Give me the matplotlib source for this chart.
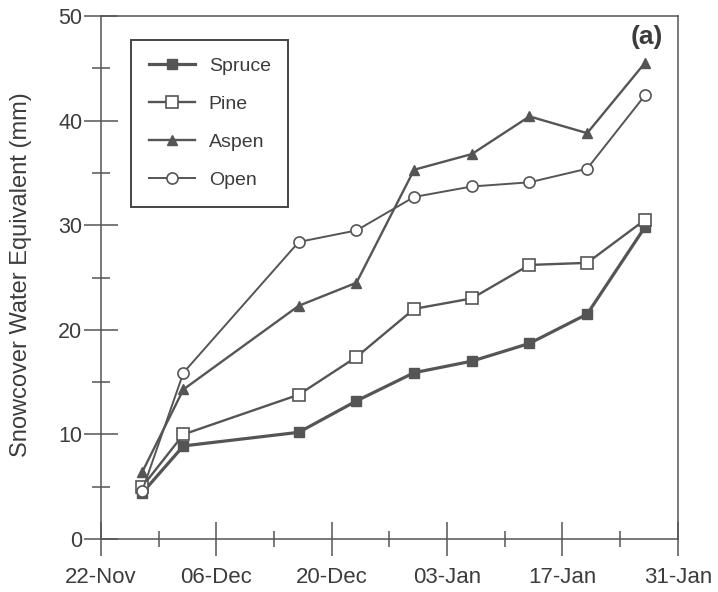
import datetime as dt
import matplotlib
matplotlib.use("Agg")
import matplotlib.pyplot as plt
import matplotlib.dates as mdates

plt.rcParams['font.family'] = ['Liberation Sans', 'DejaVu Sans']

# sampling dates (winter season)
dates = ["1994-11-27", "1994-12-02", "1994-12-16", "1994-12-23", "1994-12-30",
         "1995-01-06", "1995-01-13", "1995-01-20", "1995-01-27"]

# snowcover water equivalent (mm) under each stand type
spruce = [4.4, 8.9, 10.2, 13.2, 15.9, 17.0, 18.7, 21.5, 29.8]
pine = [5.0, 10.0, 13.8, 17.4, 22.0, 23.0, 26.2, 26.4, 30.5]
aspen = [6.4, 14.3, 22.3, 24.5, 35.3, 36.8, 40.4, 38.8, 45.5]
open_site = [4.6, 15.9, 28.4, 29.5, 32.7, 33.7, 34.1, 35.4, 42.4]

x = [dt.datetime.strptime(d, "%Y-%m-%d") for d in dates]

ink = '#555555'
txt = '#3c3c3c'

fig = plt.figure(figsize=(7.18, 5.92), dpi=100)
ax = fig.add_axes([0.1407, 0.0895, 0.8033, 0.8835])

ax.plot(x, spruce, color=ink, lw=2.3, marker='s', ms=7, mfc=ink, mec=ink, label='Spruce')
ax.plot(x, pine, color=ink, lw=1.7, marker='s', ms=8, mfc='white', mec=ink, mew=1.2, label='Pine')
ax.plot(x, aspen, color=ink, lw=1.7, marker='^', ms=7, mfc=ink, mec=ink, label='Aspen')
ax.plot(x, open_site, color=ink, lw=1.4, marker='o', ms=8, mfc='white', mec=ink, mew=1.2, label='Open')

start = dt.datetime(1994, 11, 22)
end = dt.datetime(1995, 1, 31)
ax.set_xlim(start, end)
ax.set_ylim(0, 50)

ax.set_xticks([start + dt.timedelta(days=14 * k) for k in range(6)])
ax.set_xticks([start + dt.timedelta(days=7 + 14 * k) for k in range(5)], minor=True)
ax.xaxis.set_major_formatter(mdates.DateFormatter('%d-%b'))
ax.set_yticks(range(0, 51, 10))
ax.set_yticks(range(5, 50, 10), minor=True)

ax.tick_params(axis='x', which='major', direction='inout', length=24, width=1.1,
               color=ink, labelsize=16, labelcolor=txt, pad=8)
ax.tick_params(axis='x', which='minor', direction='inout', length=11, width=1.1, color=ink)
ax.tick_params(axis='y', which='major', direction='inout', length=25, width=1.1,
               color=ink, labelsize=15.5, labelcolor=txt, pad=1)
ax.tick_params(axis='y', which='minor', direction='inout', length=13, width=1.1, color=ink)

for sp in ax.spines.values():
    sp.set_color(ink)
    sp.set_linewidth(1.1)

ax.set_ylabel('Snowcover Water Equivalent (mm)', fontsize=17, color=txt)
ax.yaxis.set_label_coords(-0.12, 0.505)

ax.text(0.946, 0.96, '(a)', transform=ax.transAxes, fontsize=19, fontweight='bold',
        color=txt, ha='center', va='center')

leg = ax.legend(loc='upper left', bbox_to_anchor=(131 / 718, 1 - 40 / 592),
                bbox_transform=fig.transFigure, borderaxespad=0, fontsize=14,
                handlelength=2.4, labelspacing=1.05, handletextpad=0.7,
                borderpad=0.9, fancybox=False, framealpha=1)
leg.get_frame().set_edgecolor('#444444')
leg.get_frame().set_linewidth(1.4)
for t in leg.get_texts():
    t.set_color(txt)

fig.savefig('out.png', dpi=100)
